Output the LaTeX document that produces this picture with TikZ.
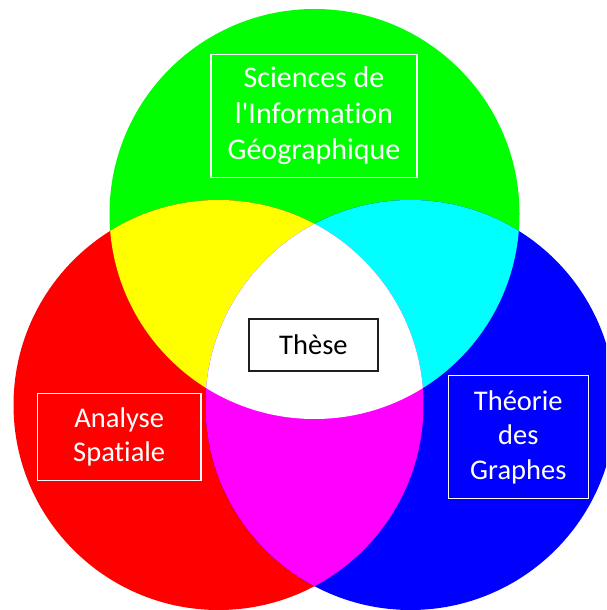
\documentclass[tikz,border=0pt]{standalone}
\usepackage{fontspec}
\newfontfamily\carl{Carlito}[Ligatures={NoCommon}]
\definecolor{cG}{RGB}{0,255,0}
\definecolor{cR}{RGB}{255,0,0}
\definecolor{cB}{RGB}{0,0,255}
\definecolor{cY}{RGB}{255,255,0}
\definecolor{cC}{RGB}{0,255,255}
\definecolor{cM}{RGB}{255,0,255}
\definecolor{edge}{RGB}{30,30,30}
\begin{document}
\begin{tikzpicture}[x=1pt,y=1pt,
  labelbox/.style={draw=white, line width=1.5pt, text=white, align=center, inner sep=0pt,
    font=\carl\fontsize{28.5}{34.5}\selectfont},
  thesebox/.style={draw=edge, line width=2pt, fill=white, text=black, inner sep=0pt,
    font=\carl\fontsize{28.5}{34.5}\selectfont}]
\useasboundingbox (0,0) rectangle (606,610);
\clip (0,0) rectangle (606,610);
\coordinate (cg) at (314.5,396);
\coordinate (cr) at (218.5,205);
\coordinate (cb) at (410.5,205);
% base circles
\fill[cG] (cg) circle (205);
\fill[cR] (cr) circle (205);
\fill[cB] (cb) circle (205);
% pairwise overlaps
\begin{scope}
  \clip (cr) circle (205);
  \fill[cY] (cg) circle (205);
\end{scope}
\begin{scope}
  \clip (cg) circle (205);
  \fill[cC] (cb) circle (205);
\end{scope}
\begin{scope}
  \clip (cr) circle (205);
  \fill[cM] (cb) circle (205);
\end{scope}
% triple overlap
\begin{scope}
  \clip (cr) circle (205);
  \clip (cg) circle (205);
  \fill[white] (cb) circle (205);
\end{scope}
% labels
\node[labelbox, minimum width=206, minimum height=123,
  font=\carl\fontsize{30}{36}\selectfont] (sig) at (314,494.2)
  {Sciences de\\l'Information\\Géographique};
\node[labelbox, minimum width=163.7, minimum height=87.4] (as) at (119.2,173)
  {Analyse\\Spatiale};
\node[labelbox, minimum width=140, minimum height=122.6] (tg) at (518.3,173)
  {Théorie\\des\\Graphes};
\node[thesebox, minimum width=128.7, minimum height=52] (these) at (313.4,265) {Thèse};
\end{tikzpicture}
\end{document}
